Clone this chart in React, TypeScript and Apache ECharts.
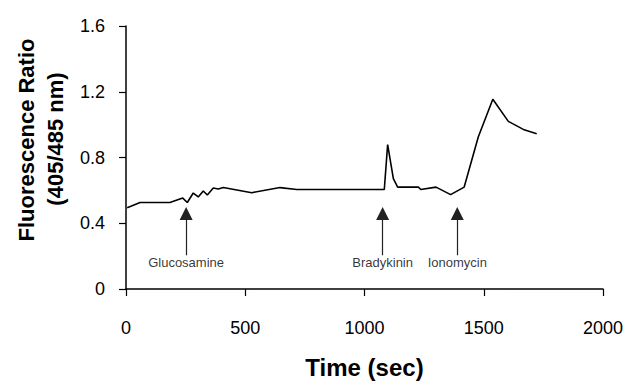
import React, { useEffect, useRef } from "react";
import * as echarts from "echarts";

const timeSec = [5, 59, 184, 238, 257, 282, 303, 324, 341, 366, 387, 408, 527, 646, 716, 1083, 1097, 1121, 1139, 1226, 1236, 1300, 1361, 1418, 1477, 1538, 1603, 1666, 1722];
const ratio = [0.495, 0.526, 0.526, 0.553, 0.526, 0.584, 0.56, 0.596, 0.572, 0.614, 0.608, 0.617, 0.586, 0.617, 0.605, 0.605, 0.878, 0.672, 0.62, 0.62, 0.605, 0.62, 0.574, 0.62, 0.925, 1.154, 1.02, 0.971, 0.945];

const arrowTimes = [252, 1076, 1389];
const arrowLabels = ["Glucosamine", "Bradykinin", "Ionomycin"];
const arrowBase = 0.205;
const arrowTip = 0.46;
const labelLevel = 0.159;

const xTicks = [0, 500, 1000, 1500, 2000];
const yTicks = [0, 0.4, 0.8, 1.2, 1.6];
const yTitleLines = ["Fluorescence Ratio", "(405/485 nm)"];

const FONT = "Liberation Sans, Arial, sans-serif";

export default function App() {
  const ref = useRef<HTMLDivElement>(null);
  useEffect(() => {
    if (!ref.current) return;
    const chart = echarts.init(ref.current, null, { renderer: "svg" });
    const axisLine = { lineStyle: { color: "#000", width: 1.5 } };
    const titleStyle = { fill: "#000", font: `bold 22px ${FONT}`, textAlign: "center", textVerticalAlign: "middle" };
    chart.setOption({
      animation: false,
      backgroundColor: "#fff",
      grid: { left: 126, right: 28, top: 26, bottom: 96, containLabel: false },
      graphic: [
        { type: "text", x: 26, y: 140, rotation: Math.PI / 2, style: { ...titleStyle, text: yTitleLines[0] } },
        { type: "text", x: 55, y: 139, rotation: Math.PI / 2, style: { ...titleStyle, text: yTitleLines[1] } },
      ],
      xAxis: {
        type: "value",
        min: xTicks[0],
        max: xTicks[xTicks.length - 1],
        interval: 500,
        axisLine,
        axisTick: { show: true, inside: false, length: 7, lineStyle: { color: "#000", width: 1.2 } },
        splitLine: { show: false },
        axisLabel: { color: "#000", fontFamily: FONT, fontSize: 18, margin: 30, formatter: (v: number) => String(v) },
        name: "Time (sec)",
        nameLocation: "middle",
        nameGap: 66,
        nameTextStyle: { color: "#000", fontFamily: FONT, fontSize: 24, fontWeight: "bold" },
      },
      yAxis: {
        type: "value",
        min: yTicks[0],
        max: yTicks[yTicks.length - 1],
        interval: 0.4,
        axisLine: { show: true, ...axisLine },
        axisTick: { show: true, inside: false, length: 7, lineStyle: { color: "#000", width: 1.2 } },
        splitLine: { show: false },
        axisLabel: {
          color: "#000",
          fontFamily: FONT,
          fontSize: 18,
          margin: 21,
          formatter: (v: number) => (v === 0 ? "0" : v.toFixed(1)),
        },
      },
      series: [
        {
          type: "line",
          data: timeSec.map((t, i) => [t, ratio[i]]),
          showSymbol: false,
          symbol: "none",
          lineStyle: { color: "#000", width: 1.6 },
          markLine: {
            silent: true,
            symbol: ["none", "triangle"],
            symbolSize: 13,
            label: { show: false },
            lineStyle: { color: "#222", width: 1.2, type: "solid" },
            data: arrowTimes.map((t) => [
              { coord: [t, arrowBase] },
              { coord: [t, arrowTip] },
            ]),
          },
        },
        {
          type: "scatter",
          symbolSize: 0,
          silent: true,
          data: arrowTimes.map((t, i) => [t, labelLevel, arrowLabels[i]]),
          label: {
            show: true,
            position: "inside",
            color: "#000",
            fontFamily: FONT,
            fontSize: 13,
            formatter: (p: any) => p.value[2],
          },
        },
      ],
    });
    return () => chart.dispose();
  }, []);
  return (
    <div
      ref={ref}
      style={{ position: "fixed", left: 0, top: 0, width: 631, height: 385, background: "#fff" }}
    />
  );
}
